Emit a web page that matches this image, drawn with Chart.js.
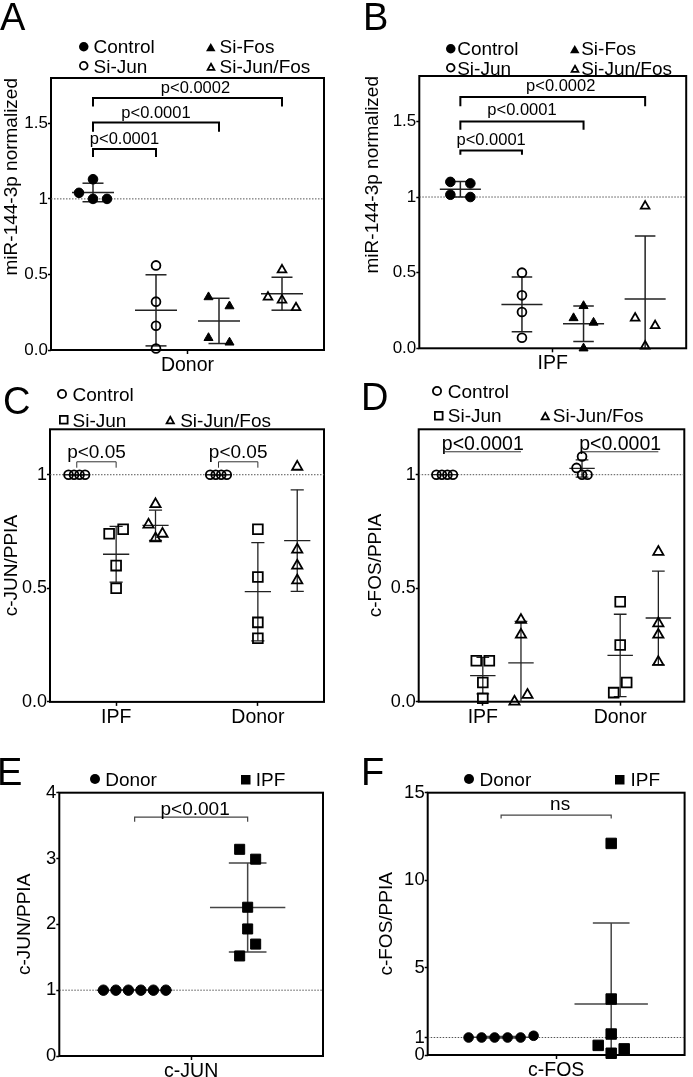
<!DOCTYPE html>
<html><head><meta charset="utf-8">
<script src="https://cdn.jsdelivr.net/npm/chart.js@4.4.1/dist/chart.umd.min.js"></script>
<style>
html,body{margin:0;padding:0;background:#fff;}
#fig{position:relative;width:693px;height:1077px;overflow:hidden;background:#fff;font-family:"Liberation Sans",Arial,Helvetica,sans-serif;color:#000;}
#fig canvas{position:absolute;}
.lbl{position:absolute;white-space:nowrap;line-height:1;}
.letter{font-size:38px;line-height:38px;}
.leg{font-size:19px;line-height:19px;}
.mk{position:absolute;overflow:visible;}
</style></head><body><div id="fig">
<canvas id="cA" width="346" height="380" style="left:0;top:0"></canvas>
<canvas id="cB" width="347" height="380" style="left:346px;top:0"></canvas>
<canvas id="cC" width="346" height="345" style="left:0;top:380px"></canvas>
<canvas id="cD" width="347" height="345" style="left:346px;top:380px"></canvas>
<canvas id="cE" width="346" height="352" style="left:0;top:725px"></canvas>
<canvas id="cF" width="347" height="352" style="left:346px;top:725px"></canvas>
</div>
<script>
// ---------------- data ----------------
const panelLetters = ['A','B','C','D','E','F'];
const seriesAB = ['Control','Si-Jun','Si-Fos','Si-Jun/Fos'];
const seriesCD = ['Control','Si-Jun','Si-Jun/Fos'];
const seriesEF = ['Donor','IPF'];
const xLabelA = ['Donor'];
const xLabelB = ['IPF'];
const xLabelsCD = ['IPF','Donor'];
const xLabelE = ['c-JUN'];
const xLabelF = ['c-FOS'];
const yTitleAB = 'miR-144-3p normalized';
const yTitleJun = 'c-JUN/PPIA';
const yTitleFos = 'c-FOS/PPIA';
const yTicksAB = [0, 0.5, 1, 1.5];
const yTickTextAB = ['0.0', '0.5', '1', '1.5'];
const yTicksCD = [0, 0.5, 1];
const yTickTextCD = ['0.0', '0.5', '1'];
const yTicksE = [0, 1, 2, 3, 4];
const yTickTextE = ['0', '1', '2', '3', '4'];
const yTicksF = [0, 1, 5, 10, 15];
const yTickTextF = ['0', '1', '5', '10', '15'];

// Panel A (Donor)
const aControl  = [1.13, 1.04, 1.0, 1.0];
const aSiJun    = [0.56, 0.32, 0.16, 0.01];
const aSiFos    = [0.35, 0.29, 0.08, 0.05];
const aSiJunFos = [0.53, 0.35, 0.33, 0.28];
const pA = ['p<0.0001', 'p<0.0001', 'p<0.0002'];
// Panel B (IPF)
const bControl  = [1.10, 1.09, 1.015, 1.0];
const bSiJun    = [0.50, 0.35, 0.24, 0.07];
const bSiFos    = [0.28, 0.20, 0.17, 0.0];
const bSiJunFos = [0.94, 0.20, 0.15, 0.015];
const pB = ['p<0.0001', 'p<0.0001', 'p<0.0002'];
// Panel C (c-JUN)
const cIpfControl   = [1, 1, 1, 1];
const cIpfSiJun     = [0.74, 0.76, 0.60, 0.50];
const cIpfSiJunFos  = [0.87, 0.78, 0.74, 0.72];
const cDonorControl = [1, 1, 1, 1];
const cDonorSiJun   = [0.76, 0.55, 0.35, 0.28];
const cDonorSiJunFos= [1.035, 0.67, 0.60, 0.535];
const pC = ['p<0.05', 'p<0.05'];
// Panel D (c-FOS)
const dIpfControl   = [1, 1, 1, 1];
const dIpfSiJun     = [0.18, 0.18, 0.085, 0.015];
const dIpfSiJunFos  = [0.36, 0.295, 0.0, 0.03];
const dDonorControl = [1.08, 1.03, 1.0, 1.0];
const dDonorSiJun   = [0.44, 0.25, 0.04, 0.085];
const dDonorSiJunFos= [0.66, 0.345, 0.295, 0.175];
const pD = ['p<0.0001', 'p<0.0001'];
// Panel E (c-JUN, Donor vs IPF)
const eDonor = [1, 1, 1, 1, 1, 1];
const eIpf   = [3.14, 2.99, 2.26, 1.93, 1.52, 1.70];
const pE = ['p<0.001'];
// Panel F (c-FOS, Donor vs IPF)
const fDonor = [1, 1, 1, 1, 1, 1.1];
const fIpf   = [12.1, 3.2, 1.2, 0.55, 0.1, 0.35];
const pF = ['ns'];

// ---------------- helpers ----------------
const FONT = '"Liberation Sans", Arial, Helvetica, sans-serif';
Chart.defaults.font.family = FONT;
Chart.defaults.color = '#000';

const mean = a => a.reduce((s, v) => s + v, 0) / a.length;
const sd = a => { const m = mean(a); return a.length < 2 ? 0 : Math.sqrt(a.reduce((s, v) => s + (v - m) * (v - m), 0) / (a.length - 1)); };

const framePlugin = {
  id: 'frame',
  beforeDatasetsDraw(chart) {
    const a = chart.chartArea, ctx = chart.ctx;
    ctx.save(); ctx.strokeStyle = '#000'; ctx.lineWidth = 2;
    ctx.strokeRect(a.left, a.top, a.right - a.left, a.bottom - a.top);
    ctx.restore();
  }
};

function bracketPlugin(items, st) {
  return {
    id: 'brackets',
    afterDatasetsDraw(chart) {
      const ctx = chart.ctx, xs = chart.scales.x, ys = chart.scales.y;
      items.forEach(b => {
        const x1 = xs.getPixelForValue(b.x1), x2 = xs.getPixelForValue(b.x2);
        const y = ys.getPixelForValue(b.y);
        ctx.save();
        ctx.strokeStyle = st.color; ctx.lineWidth = st.width; ctx.lineJoin = 'miter';
        ctx.beginPath();
        if (b.drop) {
          const yd = ys.getPixelForValue(b.y - b.drop);
          ctx.moveTo(x1, yd); ctx.lineTo(x1, y); ctx.lineTo(x2, y); ctx.lineTo(x2, yd);
        } else { ctx.moveTo(x1, y); ctx.lineTo(x2, y); }
        ctx.stroke();
        ctx.fillStyle = '#000'; ctx.font = st.size + 'px ' + FONT;
        ctx.textAlign = 'center'; ctx.textBaseline = 'alphabetic';
        ctx.fillText(b.text, (x1 + x2) / 2 + (b.dx || 0), y - st.gap);
        ctx.restore();
      });
    }
  };
}

function seg(x1, y1, x2, y2, color, width, dash) {
  return { data: [{x: x1, y: y1}, {x: x2, y: y2}], showLine: true, pointRadius: 0, pointHoverRadius: 0,
    borderColor: color, backgroundColor: color, borderWidth: width, borderDash: dash || [], fill: false, tension: 0 };
}

function buildPanel(p) {
  const datasets = [];
  p.groups.forEach(g => {
    const s = g.st;
    datasets.push({ label: g.label, data: g.values.map(v => ({x: g.center, y: v})), showLine: false,
      pointStyle: s.style, pointRadius: s.r, pointHoverRadius: s.r, pointBorderWidth: s.bw,
      pointBackgroundColor: s.fill ? '#000' : 'rgba(0,0,0,0)', pointBorderColor: '#000', clip: false });
  });
  p.groups.forEach(g => {
    const m = mean(g.values), s = sd(g.values), c = g.center;
    const lo = Math.max(m - s, p.yMin - (p.yMax - p.yMin) * 0.2);
    datasets.push(seg(c - p.meanHalf, m, c + p.meanHalf, m, p.errColor, p.errWidth));
    datasets.push(seg(c, lo, c, m + s, p.errColor, p.errWidth));
    datasets.push(seg(c - p.capHalf, m + s, c + p.capHalf, m + s, p.errColor, p.errWidth));
    datasets.push(seg(c - p.capHalf, m - s, c + p.capHalf, m - s, p.errColor, p.errWidth));
  });
  datasets.push(seg(p.xMin, 1, p.xMax, 1, '#555', 1, [1.5, 1.5]));

  const tickGrid = len => ({ display: true, drawOnChartArea: false, drawTicks: true, tickLength: len,
    tickWidth: 1.5, tickColor: '#000', color: '#000' });

  const chart = new Chart(document.getElementById(p.id), {
    type: 'scatter',
    data: { datasets },
    options: {
      responsive: false, animation: false, devicePixelRatio: 1, events: [],
      layout: { padding: p.pad },
      plugins: { legend: { display: false }, tooltip: { enabled: false } },
      scales: {
        x: { type: 'linear', min: p.xMin, max: p.xMax,
          afterBuildTicks: s => { s.ticks = p.xTicks.map(v => ({value: v})); },
          afterFit: s => { s.height = p.xHeight; },
          ticks: { callback: (v, i) => p.xText[i], font: { size: 19.5 }, padding: 0, maxRotation: 0, autoSkip: false, color: '#000' },
          grid: tickGrid(4), border: { display: false } },
        y: { type: 'linear', min: p.yMin, max: p.yMax,
          afterBuildTicks: s => { s.ticks = p.yTicks.map(v => ({value: v})); },
          afterFit: s => { s.width = p.yWidth; },
          ticks: { callback: (v, i) => p.yText[i], font: { size: p.yTickSize }, padding: 0, autoSkip: false, color: '#000' },
          grid: tickGrid(3), border: { display: false },
          title: { display: true, text: p.yTitle, font: { size: 19 }, color: '#000',
            padding: { top: p.titlePad, bottom: 0 }, align: p.titleAlign } }
      }
    },
    plugins: [framePlugin, bracketPlugin(p.brackets, p.bst)]
  });

  // beeswarm-like horizontal spreading of points that share nearly the same value
  const xs = chart.scales.x, ys = chart.scales.y;
  const pxPerX = xs.getPixelForValue(1) - xs.getPixelForValue(0);
  p.groups.forEach((g, gi) => {
    const rows = [];
    g.values.forEach((v, i) => {
      const py = ys.getPixelForValue(v);
      let r = rows.find(r => Math.abs(r.py - py) < p.swarm.thr);
      if (!r) { r = {py, idx: []}; rows.push(r); }
      r.idx.push(i);
    });
    const xArr = [];
    rows.forEach(r => {
      const n = r.idx.length;
      r.idx.forEach((i, k) => {
        const off = n === 2 ? (k - 0.5) * p.swarm.pair : (k - (n - 1) / 2) * p.swarm.step;
        xArr[i] = g.center + off / pxPerX;
      });
    });
    chart.data.datasets[gi].data = g.values.map((v, i) => ({x: xArr[i], y: v}));
  });
  chart.update('none');
  return chart;
}

// point styles
const abSt = {
  cF: {style: 'circle', r: 4.8, bw: 1, fill: true},
  cO: {style: 'circle', r: 4.4, bw: 1.8, fill: false},
  tF: {style: 'triangle', r: 5.2, bw: 1, fill: true},
  tO: {style: 'triangle', r: 5.0, bw: 1.8, fill: false}
};
const cdSt = {
  cO: {style: 'circle', r: 4.4, bw: 1.8, fill: false},
  sO: {style: 'rect', r: 6.9, bw: 1.8, fill: false},
  tO: {style: 'triangle', r: 5.9, bw: 1.8, fill: false}
};
const eSt = { cF: {style: 'circle', r: 5.2, bw: 1, fill: true}, sF: {style: 'rect', r: 7.1, bw: 1, fill: true} };
const fSt = { cF: {style: 'circle', r: 4.8, bw: 1, fill: true}, sF: {style: 'rect', r: 7.4, bw: 1, fill: true} };

const common = { meanHalf: 1/3, capHalf: 1/6 };

buildPanel(Object.assign({}, common, {
  id: 'cA', xMin: 1/3, xMax: 14/3, yMin: 0, yMax: 1.8, xTicks: [2.5], xText: xLabelA,
  yTicks: yTicksAB, yText: yTickTextAB, yTitle: yTitleAB, titleAlign: 'end', titlePad: 0, yTickSize: 17,
  pad: {left: 0, top: 78, right: 22, bottom: 0}, yWidth: 51, xHeight: 30,
  errColor: '#222', errWidth: 1.5, swarm: {thr: 11, step: 14, pair: 21},
  groups: [
    {label: seriesAB[0], values: aControl, center: 1, st: abSt.cF},
    {label: seriesAB[1], values: aSiJun, center: 2, st: abSt.cO},
    {label: seriesAB[2], values: aSiFos, center: 3, st: abSt.tF},
    {label: seriesAB[3], values: aSiJunFos, center: 4, st: abSt.tO}
  ],
  brackets: [
    {x1: 1, x2: 2, y: 1.33, drop: 0.053, text: pA[0]},
    {x1: 1, x2: 3, y: 1.505, drop: 0.06, text: pA[1]},
    {x1: 1, x2: 4, y: 1.667, drop: 0.056, text: pA[2], dx: 8}
  ],
  bst: {color: '#000', width: 2, size: 16.5, gap: 5}
}));

buildPanel(Object.assign({}, common, {
  id: 'cB', xMin: 1/3, xMax: 14/3, yMin: 0, yMax: 1.8, xTicks: [2.5], xText: xLabelB,
  yTicks: yTicksAB, yText: yTickTextAB, yTitle: yTitleAB, titleAlign: 'end', titlePad: 15, yTickSize: 17,
  pad: {left: 0, top: 76, right: 2, bottom: 0}, yWidth: 73.3, xHeight: 31.7,
  errColor: '#222', errWidth: 1.5, swarm: {thr: 11, step: 14, pair: 20},
  groups: [
    {label: seriesAB[0], values: bControl, center: 1, st: abSt.cF},
    {label: seriesAB[1], values: bSiJun, center: 2, st: abSt.cO},
    {label: seriesAB[2], values: bSiFos, center: 3, st: abSt.tF},
    {label: seriesAB[3], values: bSiJunFos, center: 4, st: abSt.tO}
  ],
  brackets: [
    {x1: 1, x2: 2, y: 1.307, drop: 0.027, text: pB[0]},
    {x1: 1, x2: 3, y: 1.50, drop: 0.055, text: pB[1]},
    {x1: 1, x2: 4, y: 1.662, drop: 0.062, text: pB[2], dx: 8}
  ],
  bst: {color: '#000', width: 2, size: 16.5, gap: 6}
}));

buildPanel(Object.assign({}, common, {
  id: 'cC', xMin: 0.32, xMax: 7.28, yMin: 0, yMax: 1.2, xTicks: [2, 5.6], xText: xLabelsCD,
  yTicks: yTicksCD, yText: yTickTextCD, yTitle: yTitleJun, titleAlign: 'center', titlePad: 0, yTickSize: 18,
  pad: {left: 0, top: 49.3, right: 22, bottom: 0}, yWidth: 50, xHeight: 23.1,
  errColor: '#222', errWidth: 1.3, swarm: {thr: 11, step: 5.5, pair: 14},
  groups: [
    {label: seriesCD[0], values: cIpfControl, center: 1, st: cdSt.cO},
    {label: seriesCD[1], values: cIpfSiJun, center: 2, st: cdSt.sO},
    {label: seriesCD[2], values: cIpfSiJunFos, center: 3, st: cdSt.tO},
    {label: seriesCD[0], values: cDonorControl, center: 4.6, st: cdSt.cO},
    {label: seriesCD[1], values: cDonorSiJun, center: 5.6, st: cdSt.sO},
    {label: seriesCD[2], values: cDonorSiJunFos, center: 6.6, st: cdSt.tO}
  ],
  brackets: [
    {x1: 1, x2: 2, y: 1.057, drop: 0.026, text: pC[0]},
    {x1: 4.6, x2: 5.6, y: 1.057, drop: 0.026, text: pC[1]}
  ],
  bst: {color: '#333', width: 1, size: 19, gap: 4}
}));

buildPanel(Object.assign({}, common, {
  id: 'cD', xMin: 0.32, xMax: 7.28, yMin: 0, yMax: 1.2, xTicks: [2, 5.6], xText: xLabelsCD,
  yTicks: yTicksCD, yText: yTickTextCD, yTitle: yTitleFos, titleAlign: 'center', titlePad: 18.6, yTickSize: 18,
  pad: {left: 0, top: 49.3, right: 2, bottom: 0}, yWidth: 72.7, xHeight: 23.3,
  errColor: '#222', errWidth: 1.3, swarm: {thr: 11, step: 5.5, pair: 13},
  groups: [
    {label: seriesCD[0], values: dIpfControl, center: 1, st: cdSt.cO},
    {label: seriesCD[1], values: dIpfSiJun, center: 2, st: cdSt.sO},
    {label: seriesCD[2], values: dIpfSiJunFos, center: 3, st: cdSt.tO},
    {label: seriesCD[0], values: dDonorControl, center: 4.6, st: cdSt.cO},
    {label: seriesCD[1], values: dDonorSiJun, center: 5.6, st: cdSt.sO},
    {label: seriesCD[2], values: dDonorSiJunFos, center: 6.6, st: cdSt.tO}
  ],
  brackets: [
    {x1: 1, x2: 3, y: 1.101, drop: 0, text: pD[0]},
    {x1: 4.6, x2: 6.6, y: 1.101, drop: 0, text: pD[1]}
  ],
  bst: {color: '#333', width: 1, size: 19.5, gap: 2}
}));

buildPanel(Object.assign({}, common, {
  id: 'cE', xMin: 1/3, xMax: 8/3, yMin: 0, yMax: 4, xTicks: [1.5], xText: xLabelE,
  yTicks: yTicksE, yText: yTickTextE, yTitle: yTitleJun, titleAlign: 'center', titlePad: 13.6, yTickSize: 18.5,
  pad: {left: 0, top: 67.7, right: 23, bottom: 0}, yWidth: 59.3, xHeight: 21,
  errColor: '#444', errWidth: 1.5, swarm: {thr: 13, step: 12.5, pair: 16},
  groups: [
    {label: seriesEF[0], values: eDonor, center: 1, st: eSt.cF},
    {label: seriesEF[1], values: eIpf, center: 2, st: eSt.sF}
  ],
  brackets: [ {x1: 1, x2: 2, y: 3.63, drop: 0.07, text: pE[0], dx: 4} ],
  bst: {color: '#444', width: 1.2, size: 19, gap: 2}
}));

buildPanel(Object.assign({}, common, {
  id: 'cF', xMin: 1/3, xMax: 8/3, yMin: 0, yMax: 15, xTicks: [1.5], xText: xLabelF,
  yTicks: yTicksF, yText: yTickTextF, yTitle: yTitleFos, titleAlign: 'center', titlePad: 29.6, yTickSize: 18.5,
  pad: {left: 0, top: 67.7, right: 2, bottom: 0}, yWidth: 81.7, xHeight: 22,
  errColor: '#444', errWidth: 1.5, swarm: {thr: 11, step: 13, pair: 16},
  groups: [
    {label: seriesEF[0], values: fDonor, center: 1, st: fSt.cF},
    {label: seriesEF[1], values: fIpf, center: 2, st: fSt.sF}
  ],
  brackets: [ {x1: 1, x2: 2, y: 13.72, drop: 0.19, text: pF[0], dx: 4} ],
  bst: {color: '#444', width: 1.2, size: 19, gap: 5}
}));

// ---------------- HTML annotations: panel letters and legends ----------------
const fig = document.getElementById('fig');
function addText(txt, cls, left, top) {
  const d = document.createElement('div'); d.className = 'lbl ' + cls; d.textContent = txt;
  d.style.left = left + 'px'; d.style.top = top + 'px'; fig.appendChild(d);
}
const letterPos = [[0, -1.7], [363, -1.7], [3, 381.7], [361, 378.3], [-3, 753.3], [361, 753]];
panelLetters.forEach((L, i) => addText(L, 'letter', letterPos[i][0], letterPos[i][1]));

function addMarker(kind, fill, size, cx, cy) {
  const NS = 'http://www.w3.org/2000/svg';
  const svg = document.createElementNS(NS, 'svg');
  const sw = fill ? 0 : 1.8;
  let w = size, h = size, el;
  if (kind === 'circle') {
    el = document.createElementNS(NS, 'circle');
    el.setAttribute('cx', size / 2); el.setAttribute('cy', size / 2); el.setAttribute('r', (size - sw) / 2);
  } else if (kind === 'square') {
    el = document.createElementNS(NS, 'rect');
    el.setAttribute('x', sw / 2); el.setAttribute('y', sw / 2);
    el.setAttribute('width', size - sw); el.setAttribute('height', size - sw);
  } else {
    h = size * 0.88;
    el = document.createElementNS(NS, 'polygon');
    el.setAttribute('points', `${size / 2},${sw} ${size - sw * 0.9},${h - sw / 2} ${sw * 0.9},${h - sw / 2}`);
  }
  el.setAttribute('fill', fill ? '#000' : 'none');
  el.setAttribute('stroke', '#000'); el.setAttribute('stroke-width', sw);
  svg.setAttribute('width', w); svg.setAttribute('height', h);
  svg.setAttribute('class', 'mk');
  svg.style.left = (cx - w / 2) + 'px'; svg.style.top = (cy - h / 2) + 'px';
  svg.appendChild(el); fig.appendChild(svg);
}
function addLegendItem(label, kind, fill, size, mx, tx, cy) {
  addMarker(kind, fill, size, mx, cy);
  addText(label, 'leg', tx - 1.5, cy - 9.3);
}
// A
addLegendItem(seriesAB[0], 'circle', true, 9.5, 84, 95, 46.7);
addLegendItem(seriesAB[2], 'triangle', true, 9.5, 210.7, 221, 46.7);
addLegendItem(seriesAB[1], 'circle', false, 9.5, 84, 95, 66);
addLegendItem(seriesAB[3], 'triangle', false, 10, 210.7, 221, 66);
// B
addLegendItem(seriesAB[0], 'circle', true, 9.5, 451, 458.7, 48.7);
addLegendItem(seriesAB[2], 'triangle', true, 9.5, 574.7, 582.7, 48.7);
addLegendItem(seriesAB[1], 'circle', false, 9.5, 451, 458.7, 68);
addLegendItem(seriesAB[3], 'triangle', false, 10, 574.7, 582.7, 68);
// C
addLegendItem(seriesCD[0], 'circle', false, 10, 61.7, 74, 394.3);
addLegendItem(seriesCD[1], 'square', false, 9.5, 63.8, 74, 420);
addLegendItem(seriesCD[2], 'triangle', false, 10.5, 170.7, 181.7, 420);
// D
addLegendItem(seriesCD[0], 'circle', false, 10, 436.7, 449.3, 391.3);
addLegendItem(seriesCD[1], 'square', false, 9.5, 438.3, 449.3, 415.7);
addLegendItem(seriesCD[2], 'triangle', false, 10.5, 545.5, 554.3, 415.7);
// E
addLegendItem(seriesEF[0], 'circle', true, 10, 95.3, 106.7, 779.3);
addLegendItem(seriesEF[1], 'square', true, 9.5, 246, 257.3, 779.3);
// F
addLegendItem(seriesEF[0], 'circle', true, 10, 469.3, 481, 779.3);
addLegendItem(seriesEF[1], 'square', true, 9.5, 620, 632, 779.3);
</script>
</body></html>
